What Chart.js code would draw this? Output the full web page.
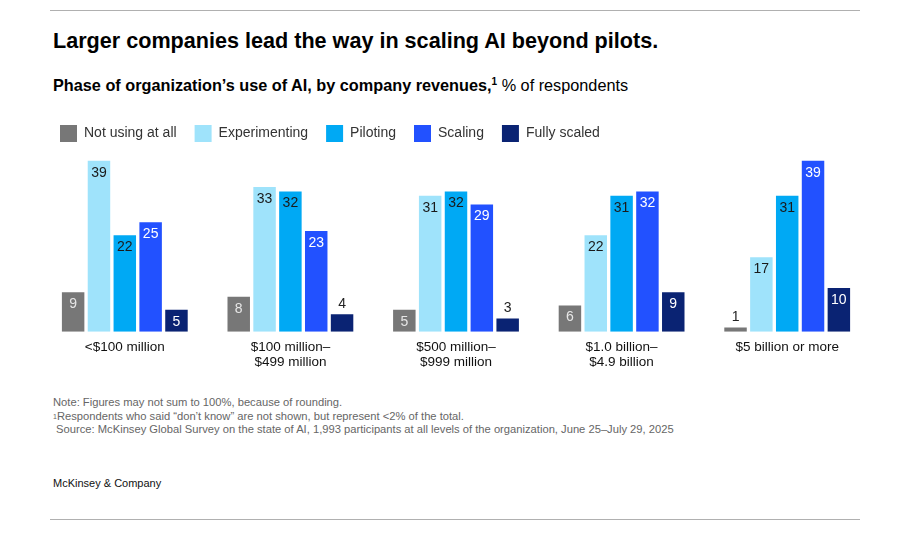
<!DOCTYPE html>
<html>
<head>
<meta charset="utf-8">
<script src="https://cdn.jsdelivr.net/npm/chart.js@4.4.1/dist/chart.umd.min.js"></script>
<style>
  body { margin: 0; background: #fff; font-family: "Liberation Sans", Arial, sans-serif; color: #000; }
  #page { position: relative; width: 906px; height: 547px; overflow: hidden; }
  .rule { position: absolute; left: 50px; width: 810px; height: 1px; background: #b0b0b0; }
  #title { position: absolute; left: 53px; top: 28px; font-size: 21.6px; font-weight: bold; white-space: nowrap; }
  #subtitle { position: absolute; left: 53px; top: 76px; font-size: 16.25px; white-space: nowrap; }
  #subtitle b sup { font-size: 10px; }
  #notes { position: absolute; left: 53px; top: 396px; font-size: 11.2px; line-height: 13.5px; color: #666; white-space: nowrap; }
  #brand { position: absolute; left: 53px; top: 477px; font-size: 11px; color: #111; }
  #wrap { position: absolute; left: 0; top: 107px; width: 906px; height: 270px; }
</style>
</head>
<body>
<div id="page">
  <div class="rule" style="top:10px"></div>
  <div id="title">Larger companies lead the way in scaling AI beyond pilots.</div>
  <div id="subtitle"><b>Phase of organization’s use of AI, by company revenues,<sup>1</sup></b> % of respondents</div>
  <div id="wrap"><canvas id="chart"></canvas></div>
  <div id="notes">
    Note: Figures may not sum to 100%, because of rounding.<br>
    <span style="font-size:7px;vertical-align:top">1</span>Respondents who said “don’t know” are not shown, but represent &lt;2% of the total.<br>
    &nbsp;Source: McKinsey Global Survey on the state of AI, 1,993 participants at all levels of the organization, June 25–July 29, 2025
  </div>
  <div id="brand">McKinsey &amp; Company</div>
  <div class="rule" style="top:519px"></div>
</div>
<script>
const categories = [
    '<$100 million',
    ['$100 million–', '$499 million'],
    ['$500 million–', '$999 million'],
    ['$1.0 billion–', '$4.9 billion'],
    '$5 billion or more'
];
const phases = ['Not using at all', 'Experimenting', 'Piloting', 'Scaling', 'Fully scaled'];
const notUsing = [9, 8, 5, 6, 1];
const experimenting = [39, 33, 31, 22, 17];
const piloting = [22, 32, 32, 31, 31];
const scaling = [25, 23, 29, 32, 39];
const fullyScaled = [5, 4, 3, 9, 10];

const colors = ['#777777', '#9fe3fb', '#00a9f4', '#2251ff', '#0a2373'];
const labelColors = ['#e6e6e6', '#1a1a1a', '#1a1a1a', '#ffffff', '#ffffff'];

const valueLabels = {
    id: 'valueLabels',
    afterDatasetsDraw(chart) {
        const ctx = chart.ctx;
        ctx.save();
        ctx.font = '14px "Liberation Sans", Arial, sans-serif';
        ctx.textAlign = 'center';
        ctx.textBaseline = 'middle';
        chart.data.datasets.forEach((ds, i) => {
            const meta = chart.getDatasetMeta(i);
            meta.data.forEach((bar, j) => {
                const v = ds.data[j];
                const inside = v >= 5;
                ctx.fillStyle = inside ? labelColors[i] : '#222';
                ctx.fillText(String(v), bar.x, inside ? bar.y + 12 : bar.y - 10);
            });
        });
        ctx.restore();
    }
};

const series = [notUsing, experimenting, piloting, scaling, fullyScaled];

new Chart(document.getElementById('chart').getContext('2d'), {
    type: 'bar',
    data: {
        labels: categories,
        datasets: series.map((d, i) => ({
            label: phases[i],
            data: d,
            backgroundColor: colors[i],
            borderWidth: 0,
            categoryPercentage: 0.78,
            barPercentage: 0.87
        }))
    },
    options: {
        responsive: true,
        maintainAspectRatio: false,
        animation: false,
        layout: { padding: { left: 42, right: 36, top: 0, bottom: 0 } },
        plugins: {
            legend: {
                display: true,
                align: 'start',
                labels: {
                    boxWidth: 17,
                    boxHeight: 17,
                    padding: 18,
                    color: '#333',
                    font: { size: 14, family: '"Liberation Sans", Arial, sans-serif' }
                }
            },
            tooltip: { enabled: false }
        },
        scales: {
            x: {
                grid: { display: false, drawTicks: false },
                border: { display: false },
                ticks: {
                    color: '#111',
                    padding: 7.5,
                    maxRotation: 0,
                    autoSkip: false,
                    font: { size: 13.5, family: '"Liberation Sans", Arial, sans-serif', lineHeight: 1.12 }
                }
            },
            y: { display: false, min: 0, max: 41 }
        }
    },
    plugins: [valueLabels]
});
</script>
</body>
</html>
